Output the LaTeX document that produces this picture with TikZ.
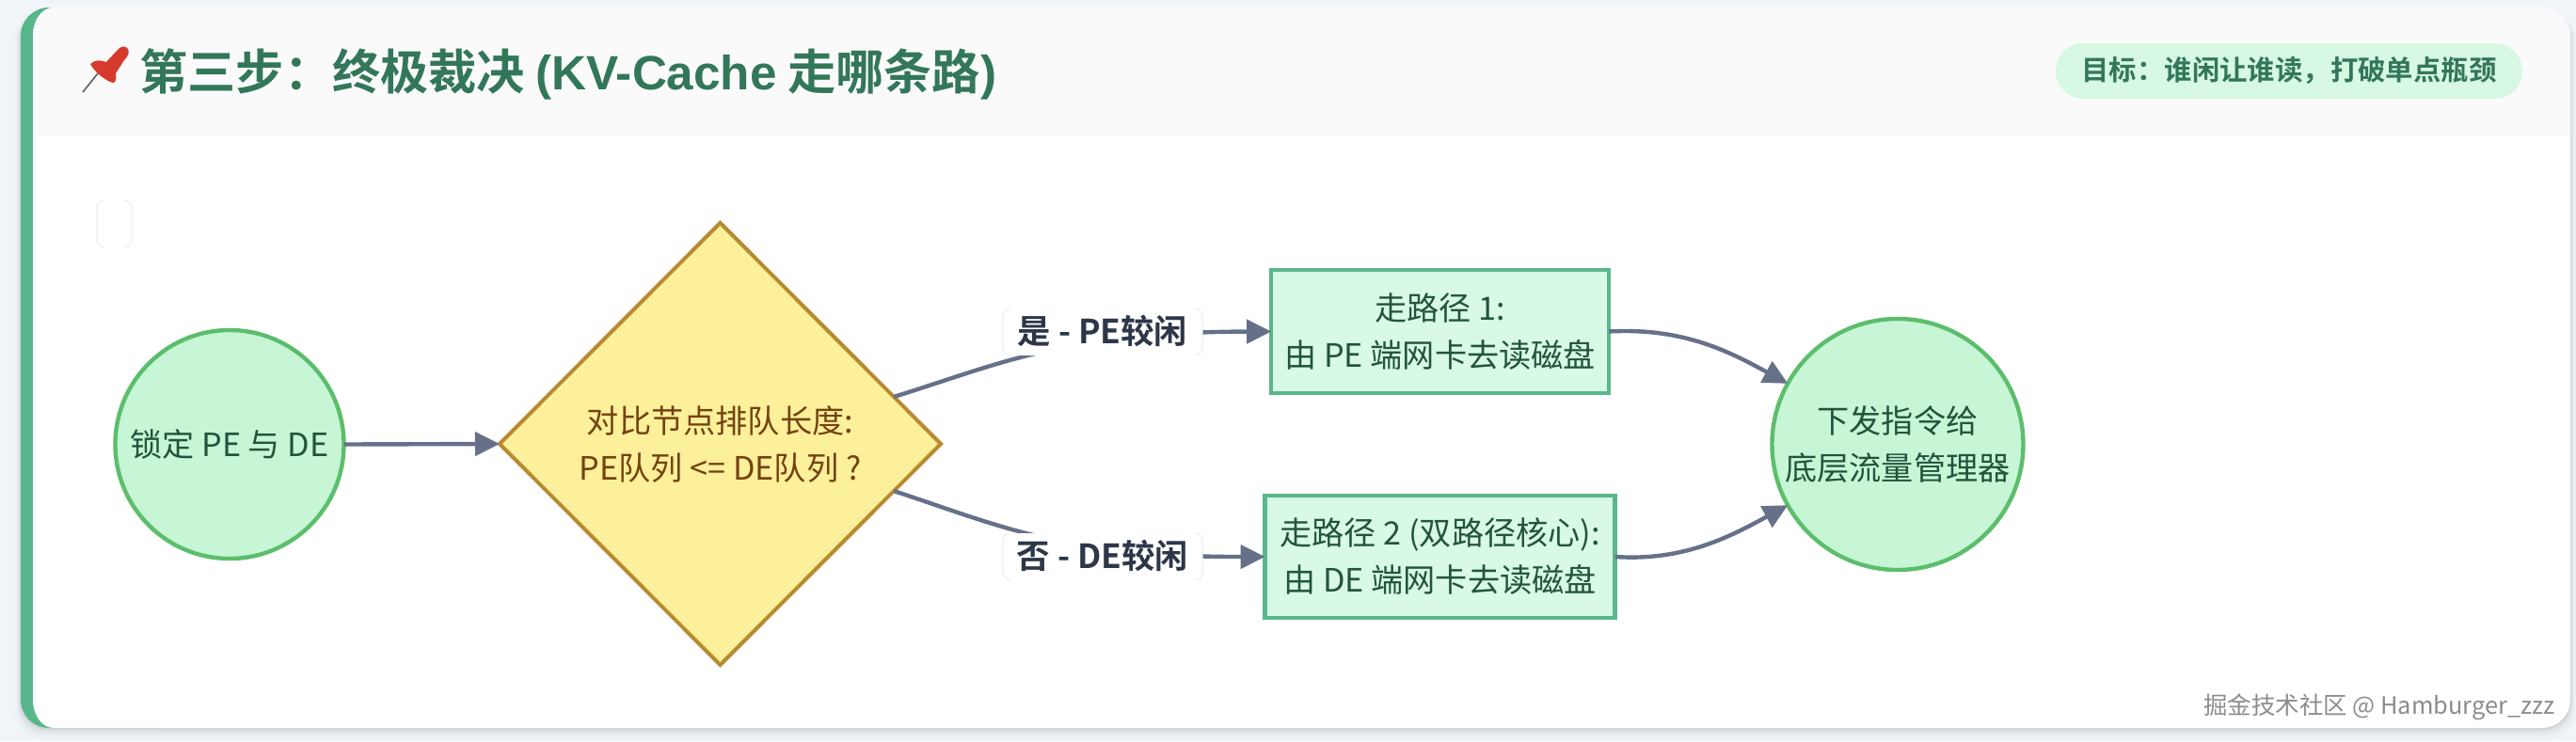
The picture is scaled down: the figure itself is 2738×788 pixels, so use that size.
\documentclass[tikz,border=0pt]{standalone}
\usepackage{fontspec}
\usetikzlibrary{shapes.geometric,arrows.meta,calc}
\setmainfont{Noto Sans CJK SC}[BoldFont={* Bold}]
\newfontfamily\titlelatin{Liberation Sans}[BoldFont={Liberation Sans Bold}]
\definecolor{pagebg}{HTML}{F1F5F9}
\definecolor{headbg}{HTML}{FAFAFA}
\definecolor{barc}{HTML}{57B78B}
\definecolor{headtxt}{HTML}{33775A}
\definecolor{pillbg}{HTML}{D7F8E3}
\definecolor{circfill}{HTML}{C6F6D5}
\definecolor{circline}{HTML}{5CBE6C}
\definecolor{boxfill}{HTML}{D8F9E5}
\definecolor{boxline}{HTML}{5AB78A}
\definecolor{nodetxt}{HTML}{22543D}
\definecolor{diafill}{HTML}{FCF09A}
\definecolor{dialine}{HTML}{B98A30}
\definecolor{diatxt}{HTML}{744210}
\definecolor{edgec}{HTML}{667189}
\definecolor{labtxt}{HTML}{2D3748}
\definecolor{faint}{HTML}{EDF0F3}
\definecolor{pinred}{HTML}{D63A2C}
\tikzset{
  nodetext/.style={font=\fontsize{17.1pt}{25pt}\selectfont,align=center,inner sep=0pt,outer sep=0pt},
  roundnode/.style={nodetext,circle,draw=circline,fill=circfill,line width=2.2pt,text=nodetxt},
  boxnode/.style={nodetext,rectangle,draw=boxline,fill=boxfill,line width=2.2pt,text=nodetxt},
  decision/.style={nodetext,diamond,draw=dialine,fill=diafill,line width=2pt,text=diatxt},
  flow/.style={draw=edgec,line width=2.2pt,-{Triangle[length=13pt,width=12.5pt]}},
  edgelabel/.style={font=\bfseries\fontsize{17.7pt}{20pt}\selectfont,text=labtxt,fill=white,inner sep=0pt,outer sep=0pt,text height=14pt,text depth=1.5pt},
  side/.style={draw=faint,line width=.6pt,rounded corners=4pt}
}
\begin{document}
\begin{tikzpicture}[x=0.5pt,y=-0.5pt]
\useasboundingbox (0,0) rectangle (2738,788);
\fill[pagebg] (0,0) rectangle (2738,788);
% card shadow
\foreach \g/\o in {12/.015,8/.025,5/.035,2/.06}{
  \fill[black,opacity=\o,rounded corners=15pt] (22-\g*.5,12) rectangle (2732+\g*.5,774+\g);
}
% accent bar and card
\fill[barc,rounded corners=15pt] (22,8) rectangle (200,774);
\fill[white] (35,38) .. controls (35,21.4) and (44.8,8) .. (57,8) -- (2702,8)
  .. controls (2718.6,8) and (2732,21.4) .. (2732,38) -- (2732,744)
  .. controls (2732,760.6) and (2718.6,774) .. (2702,774) -- (57,774)
  .. controls (44.8,774) and (35,760.6) .. (35,744) -- cycle;
\fill[headbg] (35,145) -- (35,38) .. controls (35,21.4) and (44.8,8) .. (57,8) -- (2702,8)
  .. controls (2718.6,8) and (2732,21.4) .. (2732,38) -- (2732,145) -- cycle;
% pin
\draw[gray!75!black,line width=.8pt] (88,98) -- (112,68);
\fill[pinred] (96,68) .. controls (101,63) and (108,64) .. (113,66)
  -- (125,53) .. controls (128,49) and (134,48) .. (136,52)
  .. controls (138,56) and (136,60) .. (132,64)
  -- (123,78) .. controls (124,84) and (123,88) .. (120,88)
  .. controls (112,86) and (100,76) .. cycle;
% header
\node[anchor=west,inner sep=0pt,text=headtxt,font=\bfseries\fontsize{25.6pt}{30pt}\selectfont] (title) at (148,79) {第三步：终极裁决 {\titlelatin (KV-Cache} 走哪条路{\titlelatin )}};
\node[rectangle,rounded corners=14.7pt,fill=pillbg,minimum width=248pt,minimum height=29.5pt,inner sep=0pt,text=headtxt,font=\bfseries\fontsize{14.7pt}{18pt}\selectfont] (goal) at (2433,75.5) {目标：谁闲让谁读，打破单点瓶颈};
% main nodes
\node[roundnode,minimum size=121.5pt] (start) at (244,472.5) {锁定 PE 与 DE};
\node[decision,minimum width=234.5pt,minimum height=235pt] (dec) at (765.5,472) {对比节点排队长度:\\PE队列 <= DE队列 ?};
\node[boxnode,minimum width=179.5pt,minimum height=65.5pt] (pone) at (1530.7,352.5) {走路径 1:\\由 PE 端网卡去读磁盘};
\node[boxnode,minimum width=186pt,minimum height=65pt] (ptwo) at (1530.6,592) {走路径 2 (双路径核心):\\由 DE 端网卡去读磁盘};
\node[roundnode,minimum size=133.5pt] (finish) at (2017,472.5) {下发指令给\\底层流量管理器};
% connectors
\draw[flow] (start.east) -- (dec.west);
\draw[flow] ($(dec.north)!0.787!(dec.east)$) .. controls (1060,388) and (1130,353) .. (pone.west);
\draw[flow] ($(dec.south)!0.787!(dec.east)$) .. controls (1060,558) and (1130,592.3) .. (ptwo.west);
\draw[flow] (pone.east) .. controls (1790,348) and (1840,375) .. (finish.151);
\draw[flow] (ptwo.east) .. controls (1790,597) and (1840,570) .. (finish.209);
% edge labels
\node[edgelabel,minimum width=106pt,minimum height=25pt] (yes) at (1172,353) {是 - PE较闲};
\node[edgelabel,minimum width=106pt,minimum height=25pt] (no) at (1172,592) {否 - DE较闲};
\draw[side] ([xshift=4pt]yes.north west) -- (yes.north west) -- (yes.south west) -- ([xshift=4pt]yes.south west);
\draw[side] ([xshift=-4pt]yes.north east) -- (yes.north east) -- (yes.south east) -- ([xshift=-4pt]yes.south east);
\draw[side] ([xshift=4pt]no.north west) -- (no.north west) -- (no.south west) -- ([xshift=4pt]no.south west);
\draw[side] ([xshift=-4pt]no.north east) -- (no.north east) -- (no.south east) -- ([xshift=-4pt]no.south east);
% empty label
\coordinate (emptynw) at (103,213);
\coordinate (emptyne) at (140,213);
\coordinate (emptysw) at (103,263);
\coordinate (emptyse) at (140,263);
\draw[side] ([xshift=4pt]emptynw) -- (emptynw) -- (emptysw) -- ([xshift=4pt]emptysw);
\draw[side] ([xshift=-4pt]emptyne) -- (emptyne) -- (emptyse) -- ([xshift=-4pt]emptyse);
% watermark
\node[anchor=east,inner sep=0pt,text=black!45,font=\fontsize{12.7pt}{15pt}\selectfont] (mark) at (2716,752) {掘金技术社区 @ Hamburger\_zzz};
\end{tikzpicture}
\end{document}
